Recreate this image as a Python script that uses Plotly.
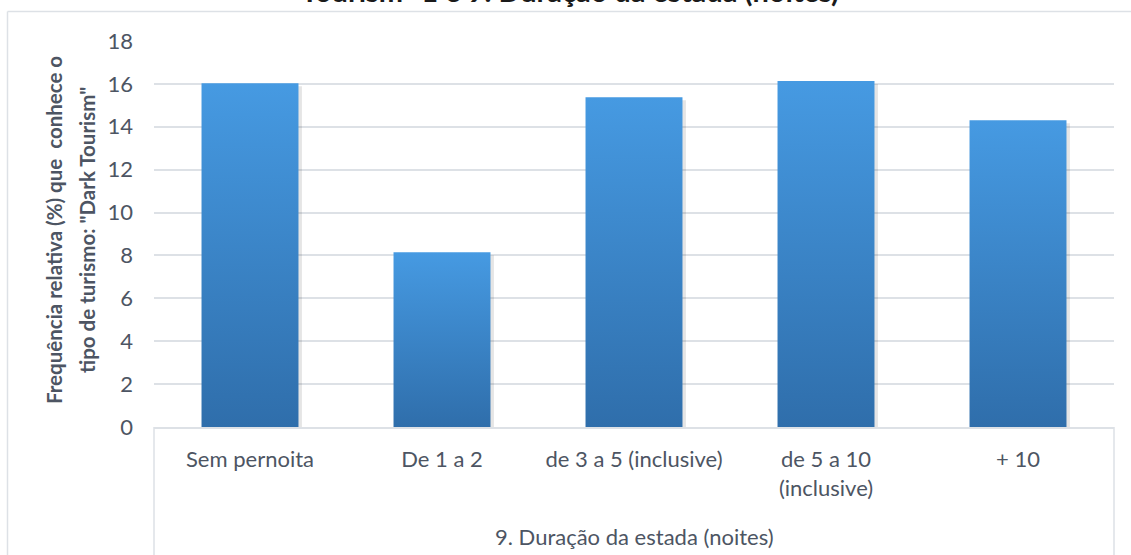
import plotly.graph_objects as go

categories = ["Sem pernoita", "De 1 a 2", "de 3 a 5 (inclusive)", "de 5 a 10<br>(inclusive)", "+ 10"]
values = [16.03, 8.15, 15.38, 16.13, 14.30]
y_ticks = [0, 2, 4, 6, 8, 10, 12, 14, 16, 18]

x_title = "9. Duração da estada (noites)"
y_title_lines = ["Frequência relativa (%) que  conhece o",
                 "tipo de turismo: \"Dark Tourism\""]
chart_title = "Tourism\" 1 e 9. Duração da estada (noites)"

FONT = "Lato"
TXT = "#4d5563"
GRID = "#dde1e6"
W, H = 1131, 555
L, R, T, B = 154, 17, 41, 128
ph = H - T - B
pw = W - L - R
bw = 0.505

fig = go.Figure()
for i, v in enumerate(values):
    x0, x1 = i - bw / 2, i + bw / 2
    # soft shadow
    dx, dy = 0.018, 0.14
    fig.add_trace(go.Scatter(
        x=[x0 + dx, x1 + dx, x1 + dx, x0 + dx, x0 + dx],
        y=[-dy, -dy, v - dy, v - dy, -dy],
        mode="lines", fill="toself", line=dict(width=0),
        fillcolor="rgba(0,0,0,0.10)", hoverinfo="skip", showlegend=False))
    fig.add_trace(go.Scatter(
        x=[x0, x1, x1, x0, x0],
        y=[0, 0, v, v, 0],
        mode="lines", fill="toself", line=dict(width=0),
        fillgradient=dict(type="vertical",
                          colorscale=[[0, "#2f6eab"], [1, "#469ae2"]]),
        name=categories[i].replace("<br>", " "), showlegend=False))

fig.update_layout(
    width=W, height=H,
    margin=dict(l=L, r=R, t=T, b=B),
    plot_bgcolor="white", paper_bgcolor="white",
    font=dict(family=FONT, color=TXT, size=22),
    xaxis=dict(range=[-0.5, 4.5], tickvals=list(range(len(categories))),
               ticktext=categories, showgrid=False, zeroline=False,
               showline=True, linecolor=GRID, linewidth=1.5,
               ticks="", ticklabelstandoff=12,
               tickfont=dict(size=22, family=FONT, color=TXT)),
    yaxis=dict(range=[0, 18], tickvals=y_ticks, showgrid=True,
               gridcolor=GRID, gridwidth=1.5, zeroline=False, showline=False,
               ticks="", ticklabelstandoff=20,
               tickfont=dict(size=22, family=FONT, color=TXT)),
)

# table lines for category axis
for xp in [0, 1]:
    fig.add_shape(type="line", xref="paper", yref="paper",
                  x0=xp, x1=xp, y0=0, y1=-(B + 5) / ph,
                  line=dict(color=GRID, width=1.5))

# chart frame (left and top edges)
fx = (7.5 - L) / pw
fy = (H - B - 11.5) / ph
fig.add_shape(type="line", xref="paper", yref="paper",
              x0=fx, x1=fx, y0=fy, y1=-(B + 5) / ph,
              line=dict(color=GRID, width=1.5))
fig.add_shape(type="line", xref="paper", yref="paper",
              x0=fx, x1=(W + 5 - L) / pw, y0=fy, y1=fy,
              line=dict(color=GRID, width=1.5))

fig.add_annotation(text=x_title, xref="paper", yref="paper",
                   x=0.5, y=(H - B - 536) / ph, xanchor="center", yanchor="middle",
                   showarrow=False, font=dict(size=22, family=FONT, color=TXT))

for line, xpix in zip(y_title_lines, [57, 90]):
    fig.add_annotation(text=line, xref="paper", yref="paper",
                       x=(xpix - 3 - L) / pw, y=(H - B - 230) / ph,
                       xanchor="center", yanchor="middle", textangle=-90,
                       showarrow=False,
                       font=dict(size=20.5, family=FONT, color=TXT, weight="bold"))

fig.add_annotation(text=chart_title, xref="paper", yref="paper",
                   x=(570 - L) / pw, y=(H - B + 9) / ph,
                   xanchor="center", yanchor="middle", showarrow=False,
                   font=dict(size=29, family=FONT, color="#1a1a1a", weight="bold"))

fig.write_html("out.html", config={"displayModeBar": False},
               post_script="document.body.style.margin='0';document.body.style.padding='0';")
